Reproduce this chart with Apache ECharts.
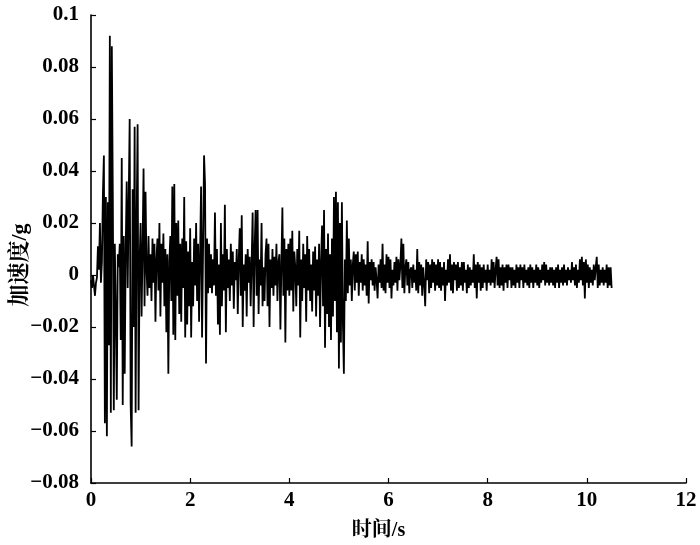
<!DOCTYPE html>
<html>
<head>
<meta charset="utf-8">
<script src="https://cdn.jsdelivr.net/npm/echarts@6/dist/echarts.min.js"></script>
<style>html,body{margin:0;padding:0;background:#fff}#c{width:700px;height:545px}</style>
</head>
<body>
<div id="c"></div>
<script>
// sampling step of the record (s)
var dt = 0.02;
// acceleration in units of 0.001 g, one row = 0.5 s (25 samples)
var accelMilliG = [
 -2,-5,0,-4,-8,-3,-1,11,2,20,-3,5,31,46,-57,30,-62,28,-27,92,-53,88,30,-52,12,
 -14,-48,8,3,12,-25,45,-50,15,-38,10,36,-5,28,60,-50,-66,33,-20,57,-53,20,58,-52,5,
 20,-16,10,41,-12,32,2,-8,15,-5,8,-10,14,-3,12,-18,6,14,-6,20,-16,12,-3,16,-12,
 10,-22,8,-38,5,15,-10,34,-23,35,-25,20,-8,21,-15,12,-18,14,-5,30,-24,13,-19,9,-12,
 18,-24,5,-12,14,-4,20,-10,12,-18,8,34,-24,10,46,35,-34,14,-7,12,-5,8,-7,6,-4,
 24,-8,10,-19,4,-23,20,-12,8,-6,27,-22,10,-5,6,-10,12,-4,9,-13,5,-2,10,-15,6,
 18,-8,23,-20,4,-6,8,-16,10,-3,7,-12,5,24,-20,10,25,-8,25,-15,6,-4,20,-12,3,
 -10,8,14,-12,12,-20,6,-5,10,-8,7,-4,12,-10,5,8,-21,4,26,-8,14,-26,10,-6,12,
 -8,14,-6,17,-14,9,3,-12,10,-4,17,-24,6,-10,12,-5,8,-18,15,-6,10,-10,4,-14,9,
 -6,11,-16,6,-8,12,-20,5,19,-12,25,-28,10,-15,16,-20,8,-25,14,-16,30,-10,32,-22,28,
 -36,20,-26,28,-18,-38,6,-10,21,-7,14,-4,6,-10,4,9,-6,8,-3,9,-8,5,-3,8,-6,
 6,-4,4,-8,13,-11,5,-2,6,-4,5,-6,3,-2,-9,4,-3,6,-5,12,-6,4,-7,8,-3,
 7,-5,6,-9,2,-4,5,-3,7,-6,6,-2,4,14,-5,12,-7,3,6,-4,5,-7,2,3,-5,
 4,-3,2,-6,10,-7,5,-4,4,-8,3,-3,-12,6,-2,5,-7,4,-5,6,-3,5,-6,4,-4,
 6,-5,5,-6,3,-4,5,-10,2,-4,6,-3,8,-6,4,-7,5,-2,4,-6,5,-5,3,-4,5,
 -6,5,-3,2,-7,4,-5,3,-4,2,-3,8,-5,4,-9,5,-3,4,-6,3,-5,4,-3,2,-6,
 4,-3,2,-4,6,-3,5,-5,2,7,-4,6,-5,3,-4,4,-6,3,-3,4,-5,4,-2,3,-5,
 3,-4,2,-5,4,-3,3,-5,4,-2,3,-5,4,-3,2,-4,3,-5,4,-3,3,-5,2,-3,4,
 -4,3,-5,2,-3,4,-2,5,-4,4,-3,2,-4,3,-3,3,-4,2,-5,3,-3,4,-5,2,-3,
 3,-4,4,-3,2,-4,3,-2,2,-3,5,-2,3,-4,4,-5,2,-3,6,-2,7,-4,5,-9,6,
 -3,4,-5,3,-3,2,-4,4,-2,3,7,-5,4,-4,2,-3,3,-4,2,-3,4,-5,3,-4,3,
 -5
];
var xTicks = [0, 2, 4, 6, 8, 10, 12];
var yTicks = [-0.08, -0.06, -0.04, -0.02, 0, 0.02, 0.04, 0.06, 0.08, 0.1];
var xTitle = '时间/s';
var yTitle = '加速度/g';

var seriesData = accelMilliG.map(function (v, i) {
  return [+(i * dt).toFixed(2), v / 1000];
});

var serif = '"Liberation Serif", "Times New Roman", "Noto Serif CJK SC", "Noto Sans CJK SC", serif';
var chart = echarts.init(document.getElementById('c'), null, {renderer: 'canvas'});
chart.setOption({
  animation: false,
  backgroundColor: '#fff',
  grid: {left: 91, right: 14, top: 15, bottom: 62, containLabel: false, outerBoundsMode: 'none'},
  xAxis: {
    type: 'value',
    min: xTicks[0], max: xTicks[xTicks.length - 1], interval: 2,
    name: xTitle, nameLocation: 'middle', nameGap: 38, nameMoveOverlap: false,
    nameTextStyle: {fontFamily: serif, fontWeight: 'bold', fontSize: 20, color: '#000', padding: [0, 20, 0, 0]},
    axisLine: {show: true, onZero: false, lineStyle: {color: '#000', width: 1.6}},
    axisTick: {show: true, inside: true, length: 5, lineStyle: {color: '#000', width: 1.2}},
    axisLabel: {fontFamily: serif, fontWeight: 'bold', fontSize: 21, color: '#000', margin: 7},
    splitLine: {show: false}
  },
  yAxis: {
    type: 'value',
    min: yTicks[0], max: yTicks[yTicks.length - 1], interval: 0.02,
    name: yTitle, nameLocation: 'middle', nameGap: 60, nameRotate: 90, nameMoveOverlap: false,
    nameTextStyle: {fontFamily: serif, fontWeight: 'bold', fontSize: 22, color: '#000', padding: [0, 32, 0, 0]},
    axisLine: {show: true, onZero: false, lineStyle: {color: '#000', width: 1.6}},
    axisTick: {show: true, inside: true, length: 5, lineStyle: {color: '#000', width: 1.2}},
    axisLabel: {
      fontFamily: serif, fontWeight: 'bold', fontSize: 21, color: '#000', margin: 12,
      formatter: function (v) {
        var best = yTicks.reduce(function (a, b) { return Math.abs(b - v) < Math.abs(a - v) ? b : a; });
        return String(best).replace('-', '\u2212');
      }
    },
    splitLine: {show: false}
  },
  series: [{
    type: 'line',
    data: seriesData,
    showSymbol: false,
    symbol: 'none',
    sampling: null,
    lineStyle: {color: '#000', width: 1.8, join: 'miter', miterLimit: 2},
    z: 3
  }]
});
</script>
</body>
</html>
